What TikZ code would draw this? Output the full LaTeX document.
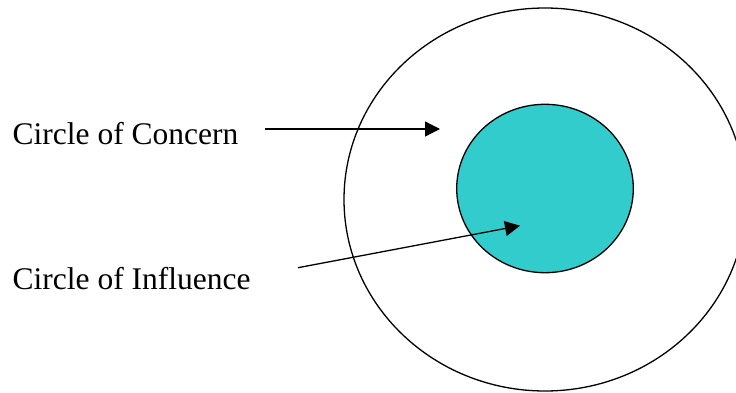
\documentclass[tikz,border=0pt]{standalone}
\usepackage{fontspec}
\setmainfont{Liberation Serif}
\usetikzlibrary{arrows.meta}
\usetikzlibrary{positioning}
\usetikzlibrary{shapes.geometric}
\definecolor{tealfill}{HTML}{33CCCC}
\tikzset{
  circ/.style={
    draw,
    black,
    ellipse,
    line width=1.3pt,
    inner sep=0,
  },
  concern/.style={
    circ,
    minimum width=402pt,
    minimum height=383pt,
  },
  influence/.style={
    circ,
    fill=tealfill,
    minimum width=176.6pt,
    minimum height=168.4pt,
  },
  pointer/.style={
    draw,
    ->,
    >={Triangle[length=15pt,width=15pt]},
    line width=1.3pt,
  },
  label/.style={
    node font=\fontsize{31.5}{36}\selectfont,
    anchor=base west,
    inner sep=0,
  }
}
\begin{document}
\begin{tikzpicture}[x=1pt,y=1pt]
  \useasboundingbox (0,0) rectangle (736,392);
  \clip (0,0) rectangle (736,392);

  \node (concern)   [concern]   at (545,192.5) {};
  \node (influence) [influence] at (545,203.5) {};

  \node (concern text)   [label] at (12.5,248) {Circle of Concern};
  \node (influence text) [label] at (12.5,103) {Circle of Influence};

  \coordinate (concern from)   at (265,263);
  \coordinate (concern to)     at (440,263);
  \coordinate (influence from) at (298,124.3);
  \coordinate (influence to)   at (520,166.3);

  \path [pointer] (concern from) -- (concern to);
  \path [pointer] (influence from) -- (influence to);
\end{tikzpicture}
\end{document}
